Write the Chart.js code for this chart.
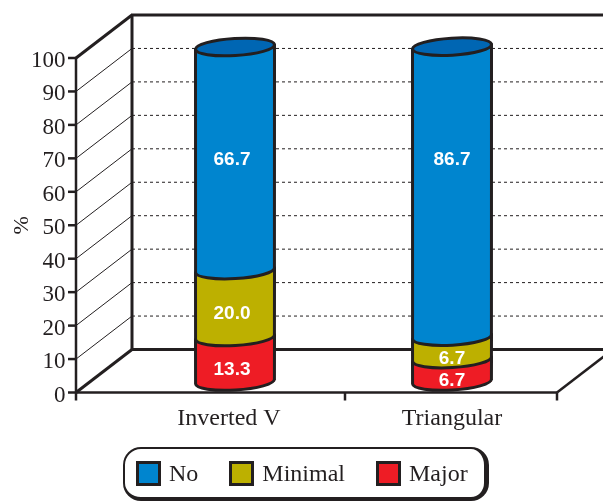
<!DOCTYPE html>
<html>
<head>
<meta charset="utf-8">
<style>
    body { margin: 0; background: #fff; }
    #wrap { position: relative; width: 603px; height: 501px; overflow: hidden; }
    canvas { display: block; }
    #legend {
        position: absolute; left: 123px; top: 447px; height: 48px;
        box-sizing: content-box; display: flex; align-items: center; padding-left: 11px; width: 348px;
        border: solid #231f20; border-width: 2.5px 5px 4px 2.5px; border-radius: 18px;
        font: 24px "Liberation Serif", serif; color: #231f20;
    }
    #legend .item { display: flex; align-items: center; margin-right: 31px; }
    #legend .box { width: 19px; height: 19px; border: 3px solid #231f20; margin-right: 8px; }
</style>
</head>
<body>
<div id="wrap">
    <canvas id="chart" width="603" height="501"></canvas>
    <div id="legend"></div>
</div>
<script src="https://cdn.jsdelivr.net/npm/chart.js@4"></script>
<script>
const categories = ['Inverted V', 'Triangular'];
const major = [13.3, 6.7];
const minimal = [20.0, 6.7];
const no = [66.7, 86.7];
const yTicks = [0, 10, 20, 30, 40, 50, 60, 70, 80, 90, 100];

const INK = '#231f20';
const BLUE = '#0085cf';
const BLUE_TOP = '#0066b3';
const OLIVE = '#bdb000';
const RED = '#ee1c25';

// box frame
const FRONT_LEFT = 76;
const FRONT_RIGHT = 557;
const FRONT_MID_TICK = 345;
const FRONT_TOP = 58;
const FRONT_BOTTOM = 392.5;
const DEPTH_X = 56;
const DEPTH_Y = 43;

// cylinders stand a little behind the front edge
const BAR_LIFT = 11;
const BAR_WIDTH = 79;
const ELLIPSE_RY = 8.5;
const ELLIPSE_TILT = -0.06;

// value labels on the first cylinder sit slightly left of centre
const LABEL_NUDGE_X = [-3, 0];

function line(ctx, x1, y1, x2, y2, width) {
    ctx.lineWidth = width;
    ctx.beginPath();
    ctx.moveTo(x1, y1);
    ctx.lineTo(x2, y2);
    ctx.stroke();
}

const box3d = {
    id: 'box3d',
    afterLayout(chart) {
        // the layout leaves room for tick labels above the axis, pin it to the frame
        const y = chart.scales.y;
        y.top = FRONT_TOP;
        y.bottom = FRONT_BOTTOM;
        y.height = FRONT_BOTTOM - FRONT_TOP;
        y.configure();
    },
    beforeDraw(chart) {
        // first category label sits a bit left of its cylinder
        const first = chart.scales.x.getLabelItems()[0];
        if (first && !first.moved) {
            first.options.translation[0] -= 6;
            first.moved = true;
        }
    },
    beforeDatasetsDraw(chart) {
        const ctx = chart.ctx;
        const y = chart.scales.y;
        const y0 = y.getPixelForValue(0);
        const y100 = y.getPixelForValue(100);
        const backX = FRONT_LEFT + DEPTH_X;
        const W = chart.width;

        ctx.save();
        ctx.strokeStyle = INK;
        ctx.lineCap = 'butt';

        yTicks.forEach(v => {
            const py = y.getPixelForValue(v);
            line(ctx, FRONT_LEFT - 8, py, FRONT_LEFT, py, 2.5);
            if (v === 0 || v === 100) return;
            line(ctx, FRONT_LEFT, py, backX, py - DEPTH_Y, 1);
            ctx.setLineDash([3, 3]);
            line(ctx, backX, py - DEPTH_Y, W, py - DEPTH_Y, 1);
            ctx.setLineDash([]);
        });

        line(ctx, backX, y100 - DEPTH_Y, backX, y0 - DEPTH_Y, 3);
        line(ctx, backX - 1, y100 - DEPTH_Y, W, y100 - DEPTH_Y, 3);
        line(ctx, backX - 1, y0 - DEPTH_Y, W, y0 - DEPTH_Y, 3);
        line(ctx, FRONT_LEFT, y100, backX, y100 - DEPTH_Y, 3);
        line(ctx, FRONT_LEFT, y0, backX, y0 - DEPTH_Y, 3);
        line(ctx, FRONT_RIGHT, y0, FRONT_RIGHT + DEPTH_X, y0 - DEPTH_Y, 2.5);
        line(ctx, FRONT_LEFT, y100 - 1, FRONT_LEFT, y0 + 8, 2.5);
        line(ctx, FRONT_LEFT, y0, FRONT_RIGHT, y0, 2.5);
        line(ctx, FRONT_MID_TICK, y0, FRONT_MID_TICK, y0 + 8, 2.5);
        line(ctx, FRONT_RIGHT, y0, FRONT_RIGHT, y0 + 8, 2.5);
        ctx.restore();
    },
    beforeDatasetDraw(chart) {
        chart.ctx.save();
        chart.ctx.translate(0, -BAR_LIFT);
    },
    afterDatasetDraw(chart) {
        chart.ctx.restore();
    },
    afterDatasetsDraw(chart) {
        const ctx = chart.ctx;
        const yScale = chart.scales.y;
        const rx = BAR_WIDTH / 2;
        const dy = Math.sin(ELLIPSE_TILT) * rx;

        ctx.save();
        ctx.translate(0, -BAR_LIFT);
        ctx.lineJoin = 'round';

        // round off each stacked segment, bottom one first
        chart.data.datasets.forEach((ds, i) => {
            chart.getDatasetMeta(i).data.forEach(bar => {
                const { x, y, base } = bar.getProps(['x', 'y', 'base'], true);

                ctx.beginPath();
                ctx.ellipse(x, base, rx, ELLIPSE_RY, ELLIPSE_TILT, 0, Math.PI);
                ctx.lineTo(x - rx, y - dy);
                ctx.lineTo(x + rx, y + dy);
                ctx.closePath();
                ctx.fillStyle = ds.backgroundColor;
                ctx.strokeStyle = INK;
                ctx.lineWidth = 3;
                ctx.fill();
                ctx.stroke();

                if (ds.topColor) {
                    ctx.beginPath();
                    ctx.ellipse(x, y, rx, ELLIPSE_RY, ELLIPSE_TILT, 0, Math.PI * 2);
                    ctx.fillStyle = ds.topColor;
                    ctx.fill();
                    ctx.stroke();
                }
            });
        });

        ctx.font = 'bold 19px "Liberation Sans", sans-serif';
        ctx.fillStyle = '#fff';
        ctx.textAlign = 'center';
        ctx.textBaseline = 'middle';
        chart.data.datasets.forEach((ds, i) => {
            chart.getDatasetMeta(i).data.forEach((bar, j) => {
                const { x, y, base } = bar.getProps(['x', 'y', 'base'], true);
                // tall top segments keep their labels level across the bars
                const ly = ds.labelLevel !== undefined
                    ? yScale.getPixelForValue(ds.labelLevel) + 1
                    : (y + base) / 2 + 10.5;
                ctx.fillText(ds.data[j].toFixed(1), x + LABEL_NUDGE_X[j], ly);
            });
        });
        ctx.restore();
    }
};

new Chart(document.getElementById('chart'), {
    type: 'bar',
    data: {
        labels: categories,
        datasets: [
            { label: 'Major', data: major, backgroundColor: RED },
            { label: 'Minimal', data: minimal, backgroundColor: OLIVE },
            { label: 'No', data: no, backgroundColor: BLUE, topColor: BLUE_TOP, labelLevel: 66.7 }
        ].map(ds => ({ ...ds, barThickness: BAR_WIDTH, clip: false }))
    },
    options: {
        responsive: false,
        animation: false,
        layout: { autoPadding: false, padding: { top: 30, right: 42.5, bottom: 0, left: 0 } },
        plugins: { legend: { display: false }, tooltip: { enabled: false } },
        scales: {
            x: {
                stacked: true,
                grid: { display: false },
                border: { display: false },
                afterFit: s => { s.height = 108.5; },
                ticks: {
                    color: INK,
                    padding: 4,
                    maxRotation: 0,
                    autoSkip: false,
                    font: { family: '"Liberation Serif", serif', size: 24 }
                }
            },
            y: {
                stacked: true,
                min: 0,
                max: 100,
                grid: { display: false },
                border: { display: false },
                afterFit: s => { s.width = 126.5; },
                afterBuildTicks: s => { s.ticks = yTicks.map(value => ({ value })); },
                title: {
                    display: true,
                    text: '%',
                    color: INK,
                    padding: { top: 9, bottom: 0 },
                    font: { family: '"Liberation Serif", serif', size: 22 }
                },
                ticks: {
                    color: INK,
                    padding: 53,
                    labelOffset: 3,
                    font: { family: '"Liberation Serif", serif', size: 23 }
                }
            }
        }
    },
    plugins: [box3d]
});

// legend reads top of stack first
const legend = document.getElementById('legend');
[['No', BLUE], ['Minimal', OLIVE], ['Major', RED]].forEach(([name, color]) => {
    const item = document.createElement('div');
    item.className = 'item';
    item.innerHTML = `<span class="box" style="background:${color}"></span><span>${name}</span>`;
    legend.appendChild(item);
});
</script>
</body>
</html>
